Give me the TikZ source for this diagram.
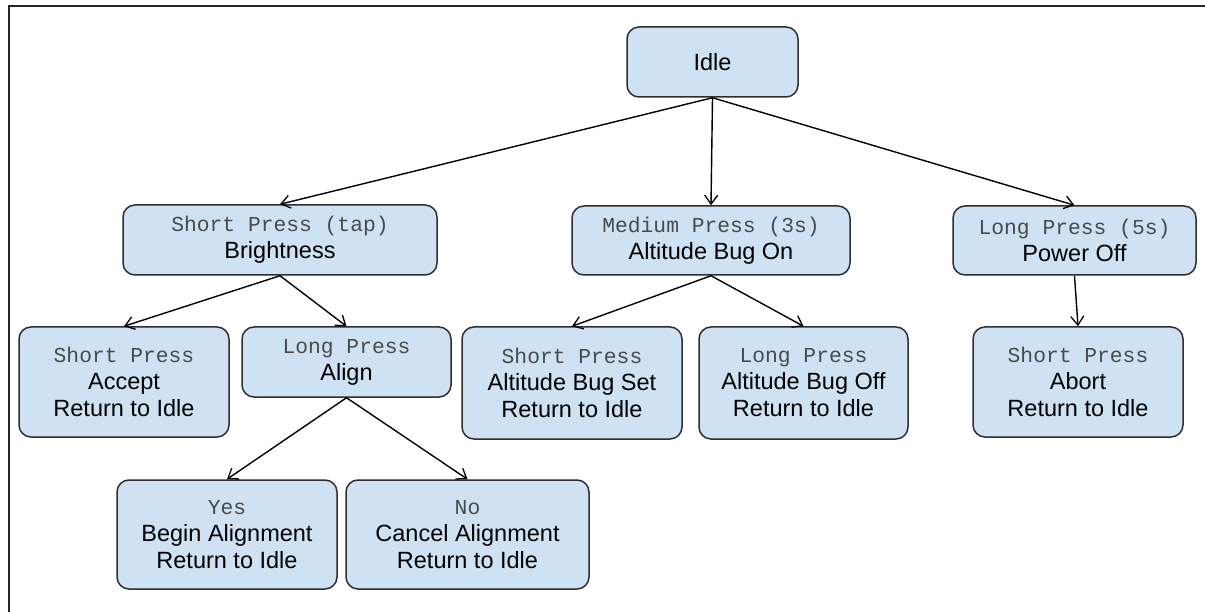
\documentclass[tikz,border=0pt]{standalone}
\usepackage{fontspec}
\setmainfont{Liberation Sans}
\newfontfamily\monof{Liberation Mono}
\usetikzlibrary{arrows.meta}
\definecolor{boxfill}{HTML}{CFE2F3}
\definecolor{boxline}{HTML}{2E2E2E}
\definecolor{monotext}{HTML}{4A4A4A}
\newcommand{\mlab}[1]{{\monof\fontsize{21.3}{27}\selectfont\color{monotext}#1}}
\begin{document}
\begin{tikzpicture}[x=1pt,y=-1pt,
  box/.style={draw=boxline, fill=boxfill, line width=1.5pt, rounded corners=12pt,
    align=center, inner sep=0pt, font=\fontsize{23.5}{27}\selectfont, text=black},
  conn/.style={line width=1.4pt, -{Straight Barb[length=9pt,width=13pt,line width=1.3pt]}}]
\useasboundingbox (0,0) rectangle (1205,612);
\draw[line width=2pt, black!85] (9,612) -- (9,6) -- (1205,6);

\node[box, minimum width=171pt, minimum height=70pt] (idle) at (712.5,62) {Idle};

\node[box, minimum width=314pt, minimum height=70pt] (short) at (280,240)
  {\mlab{Short Press (tap)}\\Brightness};
\node[box, minimum width=278pt, minimum height=69pt] (medium) at (711,240.5)
  {\mlab{Medium Press (3s)}\\Altitude Bug On};
\node[box, minimum width=243pt, minimum height=69pt] (long) at (1074.5,240.5)
  {\mlab{Long Press (5s)}\\Power Off};

\node[box, minimum width=210pt, minimum height=110pt] (accept) at (124,382)
  {\mlab{Short Press}\\Accept\\Return to Idle};
\node[box, minimum width=209pt, minimum height=70pt] (align) at (346.5,362)
  {\mlab{Long Press}\\Align};
\node[box, minimum width=220pt, minimum height=112pt] (bugset) at (572,383)
  {\mlab{Short Press}\\Altitude Bug Set\\Return to Idle};
\node[box, minimum width=209pt, minimum height=112pt] (bugoff) at (803.5,383)
  {\mlab{Long Press}\\Altitude Bug Off\\Return to Idle};
\node[box, minimum width=210pt, minimum height=110pt] (abort) at (1078,382)
  {\mlab{Short Press}\\Abort\\Return to Idle};

\node[box, minimum width=220pt, minimum height=109pt] (yes) at (227,534.5)
  {\mlab{Yes}\\Begin Alignment\\Return to Idle};
\node[box, minimum width=243pt, minimum height=109pt] (no) at (467.5,534.5)
  {\mlab{No}\\Cancel Alignment\\Return to Idle};

\draw[conn] (idle.south) -- (short.north);
\draw[conn] (idle.south) -- (medium.north);
\draw[conn] (idle.south) -- (long.north);
\draw[conn] (short.south) -- (accept.north);
\draw[conn] (short.south) -- (align.north);
\draw[conn] (medium.south) -- (bugset.north);
\draw[conn] (medium.south) -- (bugoff.north);
\draw[conn] (long.south) -- (abort.north);
\draw[conn] (align.south) -- (yes.north);
\draw[conn] (align.south) -- (no.north);
\end{tikzpicture}
\end{document}
